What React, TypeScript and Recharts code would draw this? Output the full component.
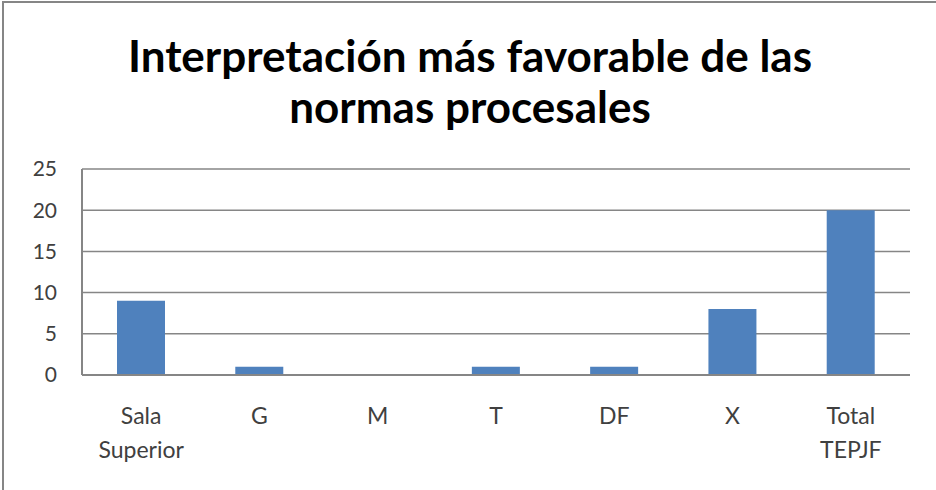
import React from "react";
import { BarChart, Bar, XAxis, YAxis, CartesianGrid } from "recharts";

const categories = ["Sala Superior", "G", "M", "T", "DF", "X", "Total TEPJF"];
const values = [9, 1, 0, 1, 1, 8, 20];
const yTicks = [0, 5, 10, 15, 20, 25];
const titleLines = ["Interpretación más favorable de las", "normas procesales"];

const data = categories.map((name, i) => ({ name, value: values[i] }));

const FONT = "Lato, 'Open Sans', sans-serif";

function CategoryTick({ x, payload }: any) {
  const lines = String(payload.value).split(" ");
  return (
    <text x={x} y={424} textAnchor="middle" fill="#404040" fontSize={23} fontFamily={FONT}>
      {lines.map((line, i) => (
        <tspan key={i} x={x} dy={i === 0 ? 0 : 34}>
          {line}
        </tspan>
      ))}
    </text>
  );
}

export default function App() {
  return (
    <div
      style={{
        position: "absolute",
        left: 0,
        top: 0,
        width: 936,
        height: 490,
        background: "#fff",
        overflow: "hidden",
      }}
    >
      <div
        style={{
          position: "absolute",
          left: 2,
          top: 1,
          width: 940,
          height: 500,
          borderLeft: "2px solid #868686",
          borderTop: "2px solid #868686",
        }}
      />
      <svg width={936} height={140} style={{ position: "absolute", left: 0, top: 0 }}>
        {titleLines.map((line, i) => (
          <text
            key={i}
            x={470}
            y={72 + i * 51}
            textAnchor="middle"
            fontFamily={FONT}
            fontWeight={700}
            fontSize={44}
            fill="#000"
          >
            {line}
          </text>
        ))}
      </svg>
      <div style={{ position: "absolute", left: 0, top: 0 }}>
        <BarChart
          width={936}
          height={490}
          data={data}
          margin={{ top: 169, right: 26, bottom: 0, left: 0 }}
        >
          <CartesianGrid vertical={false} stroke="#868686" strokeWidth={1.5} />
          <XAxis
            dataKey="name"
            axisLine={{ stroke: "#868686", strokeWidth: 2 }}
            tickLine={false}
            interval={0}
            tick={<CategoryTick />}
            height={115}
          />
          <YAxis
            width={82}
            domain={[0, 25]}
            ticks={yTicks}
            interval={0}
            axisLine={{ stroke: "#868686", strokeWidth: 2 }}
            tickLine={false}
            tickSize={0}
            tickMargin={25}
            tick={{ fill: "#404040", fontSize: 21, fontFamily: FONT }}
          />
          <Bar dataKey="value" fill="#4F81BD" barSize={48} isAnimationActive={false} />
        </BarChart>
      </div>
    </div>
  );
}
